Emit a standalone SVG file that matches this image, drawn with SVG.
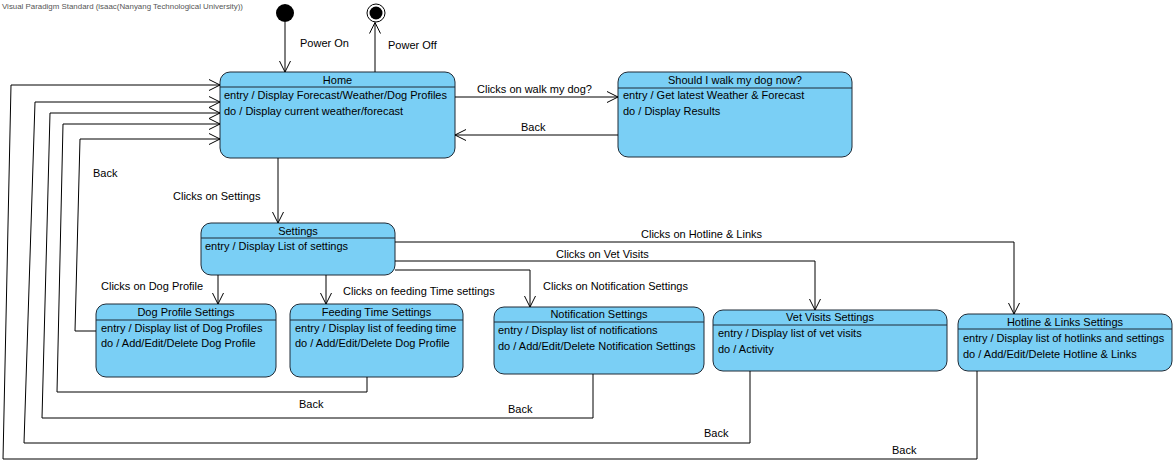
<svg xmlns="http://www.w3.org/2000/svg" width="1175" height="464" viewBox="0 0 1175 464">
<style>
text{font-family:"Liberation Sans",Arial,sans-serif;font-size:11px;fill:#000}
.t{text-anchor:middle}
.hdr{font-size:8px;fill:#555}
.box{fill:#7ACFF5;stroke:#1e2a36;stroke-width:1}
.sep{stroke:#1e2a36;stroke-width:1}
.c{fill:none;stroke:#000;stroke-width:1}
</style>
<defs>
<marker id="a" markerUnits="userSpaceOnUse" markerWidth="14" markerHeight="14" viewBox="-12 -7 14 14" refX="0" refY="0" orient="auto">
<path d="M-11,-5.5 L0,0 L-11,5.5" fill="none" stroke="#000" stroke-width="1"/>
</marker>
</defs>
<rect width="1175" height="464" fill="#fff"/>
<text class="hdr" x="2" y="9" textLength="241" lengthAdjust="spacingAndGlyphs">Visual Paradigm Standard (isaac(Nanyang Technological University))</text>

<g id="initial"><circle cx="285" cy="13" r="9" fill="#000"/></g>
<g id="final"><circle cx="376" cy="13" r="9" fill="#fff" stroke="#000" stroke-width="1"/><circle cx="376" cy="13" r="6.5" fill="#000"/></g>

<g id="home">
<rect class="box" x="220" y="72" width="235" height="86" rx="10"/>
<line class="sep" x1="220" y1="87" x2="455" y2="87"/>
<text class="t" x="337.5" y="84">Home</text>
<text x="224" y="99">entry / Display Forecast/Weather/Dog Profiles</text>
<text x="224" y="115">do / Display current weather/forecast</text>
</g>

<g id="walk">
<rect class="box" x="618" y="72" width="234" height="85" rx="10"/>
<line class="sep" x1="618" y1="88" x2="852" y2="88"/>
<text class="t" x="735" y="84">Should I walk my dog now?</text>
<text x="623" y="99">entry / Get latest Weather &amp; Forecast</text>
<text x="623" y="115">do / Display Results</text>
</g>

<g id="settings">
<rect class="box" x="201" y="223" width="194" height="52" rx="10"/>
<line class="sep" x1="201" y1="238" x2="395" y2="238"/>
<text class="t" x="298" y="235">Settings</text>
<text x="205" y="250">entry / Display List of settings</text>
</g>

<g id="dogprofile">
<rect class="box" x="96" y="304" width="180" height="73" rx="10"/>
<line class="sep" x1="96" y1="320" x2="276" y2="320"/>
<text class="t" x="186" y="316">Dog Profile Settings</text>
<text x="101" y="332">entry / Display list of Dog Profiles</text>
<text x="101" y="347">do / Add/Edit/Delete Dog Profile</text>
</g>

<g id="feeding">
<rect class="box" x="290" y="304" width="173" height="73" rx="10"/>
<line class="sep" x1="290" y1="320" x2="463" y2="320"/>
<text class="t" x="376.5" y="316">Feeding Time Settings</text>
<text x="295" y="332">entry / Display list of feeding time</text>
<text x="295" y="347">do / Add/Edit/Delete Dog Profile</text>
</g>

<g id="notification">
<rect class="box" x="494" y="307" width="210" height="67" rx="10"/>
<line class="sep" x1="494" y1="322" x2="704" y2="322"/>
<text class="t" x="599" y="318">Notification Settings</text>
<text x="498" y="334">entry / Display list of notifications</text>
<text x="498" y="350">do / Add/Edit/Delete Notification Settings</text>
</g>

<g id="vet">
<rect class="box" x="713" y="310" width="234" height="61" rx="10"/>
<line class="sep" x1="713" y1="325" x2="947" y2="325"/>
<text class="t" x="830" y="321">Vet Visits Settings</text>
<text x="718" y="337">entry / Display list of vet visits</text>
<text x="718" y="353">do / Activity</text>
</g>

<g id="hotline">
<rect class="box" x="958" y="314" width="214" height="57" rx="10"/>
<line class="sep" x1="958" y1="329" x2="1172" y2="329"/>
<text class="t" x="1065" y="326">Hotline &amp; Links Settings</text>
<text x="963" y="342">entry / Display list of hotlinks and settings</text>
<text x="963" y="358">do / Add/Edit/Delete Hotline &amp; Links</text>
</g>

<g id="connectors">
<path class="c" d="M285,22 L285,72" marker-end="url(#a)"/>
<text x="300" y="47">Power On</text>
<path class="c" d="M375,72 L375,22.5" marker-end="url(#a)"/>
<text x="388" y="49">Power Off</text>

<path class="c" d="M455,97 L618,97" marker-end="url(#a)"/>
<text x="477" y="93">Clicks on walk my dog?</text>
<path class="c" d="M618,135 L455,135" marker-end="url(#a)"/>
<text x="521" y="131">Back</text>

<path class="c" d="M278,158 L278,223" marker-end="url(#a)"/>
<text x="173" y="200">Clicks on Settings</text>

<path class="c" d="M218,275 L218,304" marker-end="url(#a)"/>
<text x="101" y="290">Clicks on Dog Profile</text>
<path class="c" d="M326,275 L326,304" marker-end="url(#a)"/>
<text x="343" y="295">Clicks on feeding Time settings</text>

<path class="c" d="M395,270 L530,270 L530,307" marker-end="url(#a)"/>
<text x="543" y="290">Clicks on Notification Settings</text>
<path class="c" d="M395,261 L815,261 L815,310" marker-end="url(#a)"/>
<text x="556" y="258">Clicks on Vet Visits</text>
<path class="c" d="M395,242 L1014,242 L1014,314" marker-end="url(#a)"/>
<text x="641" y="238">Clicks on Hotline &amp; Links</text>

<path class="c" d="M96,331 L75,331 L80,139 L220,139" marker-end="url(#a)"/>
<text x="93" y="177">Back</text>
<path class="c" d="M367,377 L367,392 L57,392 L63,124 L220,124" marker-end="url(#a)"/>
<text x="299" y="408">Back</text>
<path class="c" d="M593,374 L593,418 L42,418 L50,113 L220,113" marker-end="url(#a)"/>
<text x="508" y="413">Back</text>
<path class="c" d="M750,371 L750,443 L24,443 L35,102 L220,102" marker-end="url(#a)"/>
<text x="704" y="437">Back</text>
<path class="c" d="M977,371 L977,459 L3,459 L11,85 L220,85" marker-end="url(#a)"/>
<text x="892" y="454">Back</text>
</g>
</svg>
